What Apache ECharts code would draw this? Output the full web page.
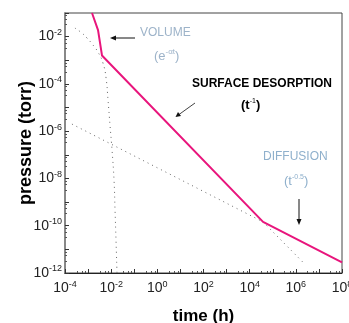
<!DOCTYPE html>
<html><head><meta charset="utf-8">
<script src="https://cdn.jsdelivr.net/npm/echarts@6/dist/echarts.min.js"></script>
<style>html,body{margin:0;padding:0;background:#fff}#c{width:349px;height:323px}</style>
</head><body><div id="c"></div>
<script>
// measured data (time in h, pressure in torr)
const totalTime = [1.48e-3, 2.7e-3, 4.0e-3, 3.8e4, 1e8];
const totalPressure = [1e-1, 1.9e-2, 1.6e-3, 1.45e-10, 2.8e-12];
const volumeTime = [2.7e-4, 5.5e-4, 9.0e-4, 1.5e-3, 2.7e-3, 4.4e-3, 6.0e-3, 7.3e-3, 8.9e-3, 1.09e-2, 1.33e-2, 1.47e-2, 1.62e-2, 1.79e-2];
const volumePressure = [2.3e-2, 1.4e-2, 8.7e-3, 4.9e-3, 2.2e-3, 7.7e-4, 1.8e-4, 2.1e-5, 1.8e-6, 1.6e-7, 8.6e-9, 4.6e-10, 2.5e-11, 1e-12];
const diffusionTime = [2.0e-4, 3.8e4];
const diffusionPressure = [2.0e-6, 1.45e-10];
const surfaceTailTime = [3.8e4, 2.0e6];
const surfaceTailPressure = [1.45e-10, 2.9e-12];
const xTickExponents = [-4, -2, 0, 2, 4, 6, 8];
const yTickExponents = [-12, -10, -8, -6, -4, -2];

const zip = (a, b) => a.map((v, i) => [v, b[i]]);
const FONT = '"Liberation Sans", Arial, sans-serif';
const makeFmt = list => v => {
  const e = Math.round(Math.log10(v));
  return list.indexOf(e) >= 0 ? '{b|10}{s|' + e + '}' : '';
};
const rich = {
  b: {fontSize: 14, color: '#222', fontFamily: FONT},
  s: {fontSize: 9, color: '#222', fontFamily: FONT, padding: [0, 0, 8, 0]}
};
const dotted = {color: '#666', width: 1, type: [1, 4]};

const chart = echarts.init(document.getElementById('c'));
chart.setOption({
  animation: false,
  grid: {left: 65, right: 7, top: 13, bottom: 50, containLabel: false, outerBoundsMode: 'none',
    show: true, borderColor: '#444', borderWidth: 1},
  xAxis: {
    type: 'log', logBase: 10, min: 1e-4, max: 1e8, interval: 1,
    name: 'time (h)', nameLocation: 'middle', nameGap: 35, nameMoveOverlap: false,
    nameTextStyle: {fontSize: 17, fontWeight: 'bold', color: '#000', fontFamily: FONT},
    axisLine: {lineStyle: {color: '#222', width: 1}},
    axisTick: {inside: true, length: 4, lineStyle: {color: '#333'}},
    minorTick: {show: true, splitNumber: 4, length: 2, lineStyle: {color: '#555'}},
    splitLine: {show: false},
    axisLabel: {margin: 7, formatter: makeFmt(xTickExponents), rich: rich}
  },
  yAxis: {
    type: 'log', logBase: 10, min: 1e-12, max: 1e-1, interval: 1,
    name: 'pressure (torr)', nameLocation: 'middle', nameGap: 30, nameMoveOverlap: false,
    nameTextStyle: {fontSize: 18, fontWeight: 'bold', color: '#000', fontFamily: FONT},
    axisLine: {lineStyle: {color: '#888', width: 2}},
    axisTick: {inside: true, length: 4, lineStyle: {color: '#333'}},
    minorTick: {show: true, splitNumber: 4, length: 2, lineStyle: {color: '#555'}},
    splitLine: {show: false},
    axisLabel: {margin: 3, formatter: makeFmt(yTickExponents), rich: rich}
  },
  series: [
    {type: 'line', data: zip(volumeTime, volumePressure), smooth: true, symbol: 'none', lineStyle: dotted, z: 1},
    {type: 'line', data: zip(diffusionTime, diffusionPressure), symbol: 'none', lineStyle: dotted, z: 1},
    {type: 'line', data: zip(surfaceTailTime, surfaceTailPressure), symbol: 'none', lineStyle: dotted, z: 1},
    {type: 'line', data: zip(totalTime, totalPressure), symbol: 'none', clip: true, lineStyle: {color: '#e8157c', width: 2}, z: 3}
  ],
  graphic: [
    {type: 'text', left: 140, top: 27, style: {text: 'VOLUME', font: '12px ' + FONT, fill: '#9db3c9'}},
    {type: 'text', left: 154, top: 48, style: {text: '(e{s|-αt})', font: '13px ' + FONT, fill: '#9db3c9',
      rich: {s: {fontSize: 8, fill: '#9db3c9', padding: [0, 0, 8, 0]}}}},
    {type: 'line', shape: {x1: 135, y1: 38, x2: 114, y2: 38}, style: {stroke: '#111', lineWidth: 1}},
    {type: 'polygon', shape: {points: [[110, 38], [116, 35.5], [116, 40.5]]}, style: {fill: '#111'}},
    {type: 'text', left: 192, top: 78, style: {text: 'SURFACE DESORPTION', font: 'bold 12px ' + FONT, fill: '#000'}},
    {type: 'text', left: 241, top: 98, style: {text: '(t{s|-1})', font: 'bold 13px ' + FONT, fill: '#000',
      rich: {s: {fontSize: 7, fill: '#000', padding: [0, 0, 8, 0]}}}},
    {type: 'line', shape: {x1: 195, y1: 103, x2: 179, y2: 114.5}, style: {stroke: '#111', lineWidth: 0.8}},
    {type: 'polygon', shape: {points: [[175.5, 117], [178, 112], [181, 116]]}, style: {fill: '#111'}},
    {type: 'text', left: 263, top: 151, style: {text: 'DIFFUSION', font: '12px ' + FONT, fill: '#8fb0cc'}},
    {type: 'text', left: 284, top: 174, style: {text: '(t{s|-0.5})', font: '13px ' + FONT, fill: '#8fb0cc',
      rich: {s: {fontSize: 7, fill: '#8fb0cc', padding: [0, 0, 8, 0]}}}},
    {type: 'line', shape: {x1: 299, y1: 199, x2: 299, y2: 220}, style: {stroke: '#111', lineWidth: 1}},
    {type: 'polygon', shape: {points: [[299, 225], [296.5, 219], [301.5, 219]]}, style: {fill: '#111'}}
  ]
});
</script></body></html>
